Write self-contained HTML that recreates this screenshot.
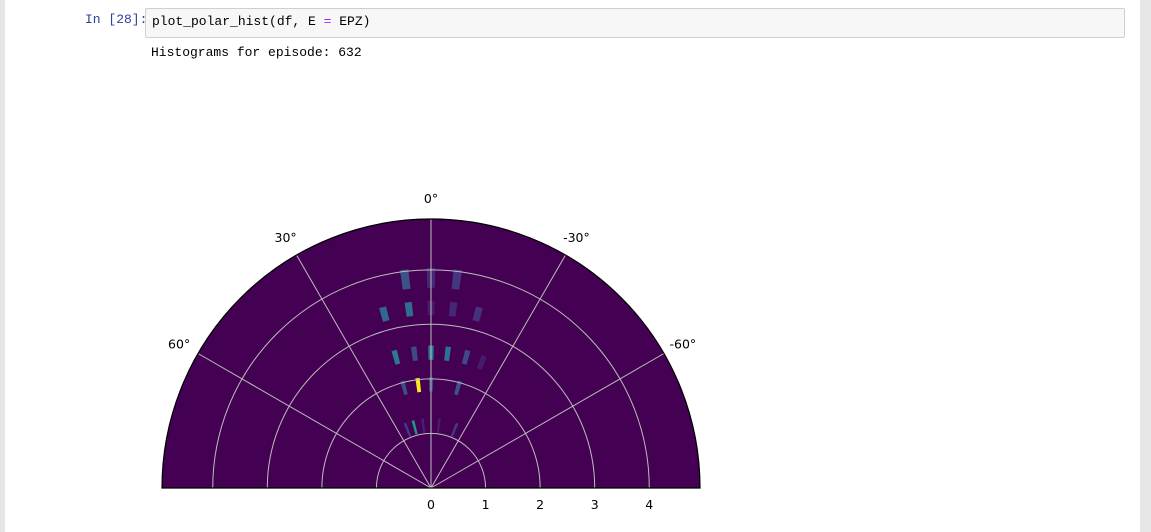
<!DOCTYPE html>
<html><head><meta charset="utf-8"><style>
body{margin:0;width:1151px;height:532px;background:#fff;position:relative;overflow:hidden;font-family:"Liberation Mono","WenQuanYi Zen Hei",monospace;}
.lbar{position:absolute;left:0;top:0;width:5px;height:532px;background:#e6e6e6}
.rbar{position:absolute;right:0;top:0;width:11px;height:532px;background:#e6e6e6}
.prompt{position:absolute;left:85px;top:12px;font-size:13px;color:#303f9f}
.cell{position:absolute;left:145px;top:8px;width:978px;height:28px;background:#f7f7f7;border:1px solid #cfcfcf;border-radius:2px}
.code{position:absolute;left:6px;top:5px;font-size:13px;color:#000}
.out{position:absolute;left:151px;top:45px;font-size:13px;color:#000}
svg{position:absolute;left:0;top:0}
svg text{font-family:"DejaVu Sans","Liberation Sans",sans-serif;font-size:12.5px;fill:#000}
</style></head><body>
<div class="lbar"></div>
<div class="rbar"></div>
<div class="prompt">In [28]:</div>
<div class="cell"><div class="code">plot_polar_hist(df, E <span style="color:#aa22ff">=</span> EPZ)</div></div>
<div class="out">Histograms for episode: 632</div>
<svg id="chart" width="1151" height="532"></svg>
<script>
const angles =  [7,0,-7, 15,7,0,-7,-15, 15,7,0,-7,-15,-22, 15,7,0,-15, 22,15,7,-7,-22];
const radii  =  [3.85,3.85,3.85, 3.3,3.3,3.3,3.3,3.3, 2.48,2.48,2.48,2.48,2.48,2.48, 1.9,1.9,1.9,1.9, 1.15,1.15,1.15,1.15,1.15];
const values =  [0.32,0.14,0.2, 0.42,0.45,0.1,0.14,0.18, 0.52,0.28,0.52,0.47,0.27,0.1, 0.3,1.0,0.24,0.32, 0.22,0.68,0.12,0.1,0.22];
const rTicks = [0,1,2,3,4];
const thetaTicks = [0,30,-30,60,-60];
const RMAX = 4.93;
const cx=431, cy=488, R=269;
const NS="http://www.w3.org/2000/svg";
const svg=document.getElementById('chart');
function rs(r){return r/RMAX*R;}
function pt(r,deg){const a=deg*Math.PI/180;return [cx - rs(r)*Math.sin(a), cy - rs(r)*Math.cos(a)];}
const vstops=[[0,[68,1,84]],[0.13,[72,36,117]],[0.25,[65,68,135]],[0.38,[53,95,141]],[0.5,[42,120,142]],[0.63,[33,145,140]],[0.75,[34,168,132]],[0.88,[122,209,81]],[1,[253,231,37]]];
function viridis(v){v=Math.max(0,Math.min(1,v));for(let i=1;i<vstops.length;i++){if(v<=vstops[i][0]){const[a,ca]=vstops[i-1],[b,cb]=vstops[i];const t=(v-a)/(b-a);return 'rgb('+ca.map((c,k)=>Math.round(c+(cb[k]-c)*t)).join(',')+')';}}return 'rgb(253,231,37)';}
function mk(tag,attrs){const e=document.createElementNS(NS,tag);for(const k in attrs)e.setAttribute(k,attrs[k]);svg.appendChild(e);return e;}
const bg=mk('path',{d:`M${cx-R},${cy} A${R},${R} 0 0 1 ${cx+R},${cy} Z`,fill:'#440154'});


for(let i=0;i<angles.length;i++){
  const h=radii[i]>3.5?0.18:0.13, w=1.1;
  const p1=pt(radii[i]-h,angles[i]+w),p2=pt(radii[i]+h,angles[i]+w),p3=pt(radii[i]+h,angles[i]-w),p4=pt(radii[i]-h,angles[i]-w);
  const c=mk('path',{d:`M${p1}L${p2}L${p3}L${p4}Z`,fill:viridis(values[i])});
  
  
}
rTicks.forEach(r=>{if(r===0)return;const rr=rs(r);
  const g=mk('path',{d:`M${cx-rr},${cy} A${rr},${rr} 0 0 1 ${cx+rr},${cy}`,fill:'none',stroke:'#bdbdbd','stroke-width':1});
  
  
  const t=mk('text',{x:cx+rr,y:509,'text-anchor':'middle'});t.textContent=r;
  
  
});
const t0=mk('text',{x:cx,y:509,'text-anchor':'middle'});t0.textContent='0';


thetaTicks.forEach(d=>{const p=pt(RMAX,d);
  const l=mk('line',{x1:cx,y1:cy,x2:p[0],y2:p[1],stroke:'#bdbdbd','stroke-width':1});
  
  
  const q=pt(RMAX+0.4,d);
  const t=mk('text',{x:q[0],y:q[1]+6,'text-anchor':'middle'});t.textContent=d+'°';
  
  
});
const border=mk('path',{d:`M${cx-R},${cy} A${R},${R} 0 0 1 ${cx+R},${cy} Z`,fill:'none',stroke:'#000','stroke-width':1.2});


</script>
</body></html>
